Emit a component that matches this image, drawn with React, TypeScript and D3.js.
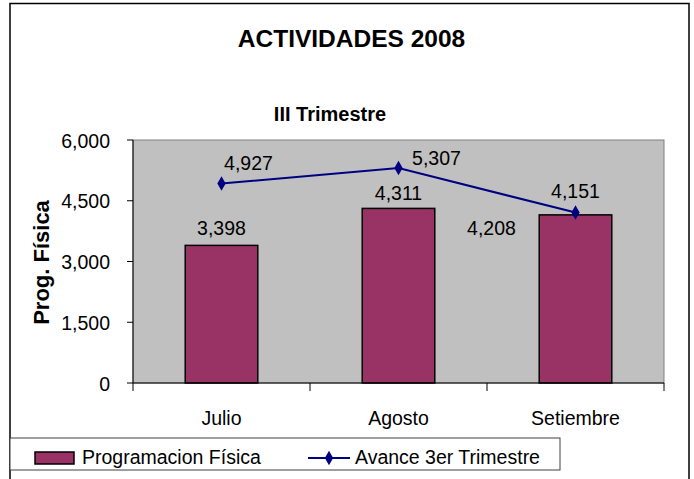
import * as d3 from "d3"

const categories = ["Julio", "Agosto", "Setiembre"]
const programacion = [3398, 4311, 4151]
const avance = [4927, 5307, 4208]
const yTicks = [0, 1500, 3000, 4500, 6000]
const seriesNames = ["Programacion Física", "Avance 3er Trimestre"]

// label nudges
const barLabelDy = [-10, -8, -17]
const lineLabelOffset: Array<[number, number]> = [[27, -13.5], [38, -3], [-84, 22.5]]

const font = "'Liberation Sans', Arial, sans-serif"
const barColor = "#993366"
const lineColor = "#000080"

export default function App() {
  const width = 694
  const height = 479
  const plot = { left: 133, right: 664, top: 140, bottom: 383 }

  const x = d3.scaleBand<string>().domain(categories).range([plot.left, plot.right])
  const y = d3.scaleLinear().domain([0, 6000]).range([plot.bottom, plot.top])
  const fmt = d3.format(",")
  const barW = x.bandwidth() * 0.41
  const cx = (c: string) => (x(c) as number) + x.bandwidth() / 2

  const line = d3
    .line<number>()
    .x((_, i) => cx(categories[i]))
    .y((d) => y(d))
  const diamond = d3.symbol().type(d3.symbolDiamond).size(60)

  const boundaries = [...categories.map((c) => x(c) as number), plot.right]

  return (
    <svg
      width={width}
      height={height}
      style={{ position: "absolute", left: 0, top: 0, background: "#fff" }}
      fontFamily={font}
    >
      {/* chart area border */}
      <rect x={10} y={3.5} width={679} height={480} fill="#fff" stroke="#000" strokeWidth={1.5} />

      <text x={351.5} y={47} textAnchor="middle" fontSize={24.5} fontWeight="bold">
        ACTIVIDADES 2008
      </text>
      <text x={330} y={121} textAnchor="middle" fontSize={20} fontWeight="bold">
        III Trimestre
      </text>

      {/* plot area */}
      <rect
        x={plot.left}
        y={plot.top}
        width={plot.right - plot.left}
        height={plot.bottom - plot.top}
        fill="#C0C0C0"
        stroke="#808080"
        strokeWidth={1}
      />

      {programacion.map((v, i) => (
        <rect
          key={categories[i]}
          x={cx(categories[i]) - barW / 2}
          y={y(v)}
          width={barW}
          height={y(0) - y(v)}
          fill={barColor}
          stroke="#000"
          strokeWidth={1.5}
        />
      ))}

      {/* axes */}
      <line x1={plot.left} x2={plot.left} y1={plot.top} y2={plot.bottom} stroke="#000" />
      <line x1={plot.left} x2={plot.right} y1={plot.bottom} y2={plot.bottom} stroke="#000" />
      {yTicks.map((t) => (
        <g key={t}>
          <line x1={plot.left - 6} x2={plot.left} y1={y(t)} y2={y(t)} stroke="#000" />
          <text x={110} y={y(t) + 7.5} textAnchor="end" fontSize={19.5}>
            {fmt(t)}
          </text>
        </g>
      ))}
      {boundaries.map((b, i) => (
        <line key={i} x1={b} x2={b} y1={plot.bottom} y2={plot.bottom + 8} stroke="#000" />
      ))}
      {categories.map((c) => (
        <text key={c} x={cx(c)} y={425} textAnchor="middle" fontSize={19.5}>
          {c}
        </text>
      ))}

      <text
        transform={`translate(49,262.5) rotate(-90)`}
        textAnchor="middle"
        fontSize={22}
        fontWeight="bold"
      >
        Prog. Física
      </text>

      {/* line series */}
      <path d={line(avance) ?? ""} fill="none" stroke={lineColor} strokeWidth={2} />
      {avance.map((v, i) => (
        <path
          key={i}
          d={diamond() ?? ""}
          transform={`translate(${cx(categories[i])},${y(v)})`}
          fill={lineColor}
        />
      ))}

      {/* data labels */}
      {programacion.map((v, i) => (
        <text
          key={"b" + i}
          x={cx(categories[i])}
          y={y(v) + barLabelDy[i]}
          textAnchor="middle"
          fontSize={19.5}
        >
          {fmt(v)}
        </text>
      ))}
      {avance.map((v, i) => (
        <text
          key={"l" + i}
          x={cx(categories[i]) + lineLabelOffset[i][0]}
          y={y(v) + lineLabelOffset[i][1]}
          textAnchor="middle"
          fontSize={19.5}
        >
          {fmt(v)}
        </text>
      ))}

      {/* legend */}
      <rect x={10} y={438} width={550} height={32} fill="#fff" stroke="#404040" strokeWidth={1} />
      <rect x={35} y={452} width={39} height={12} fill={barColor} stroke="#000" strokeWidth={1.5} />
      <text x={82} y={464} fontSize={19.5}>
        {seriesNames[0]}
      </text>
      <line x1={308} x2={350} y1={458} y2={458} stroke={lineColor} strokeWidth={2} />
      <path d={diamond() ?? ""} transform="translate(329,458)" fill={lineColor} />
      <text x={355} y={464} fontSize={19.5}>
        {seriesNames[1]}
      </text>
    </svg>
  )
}
